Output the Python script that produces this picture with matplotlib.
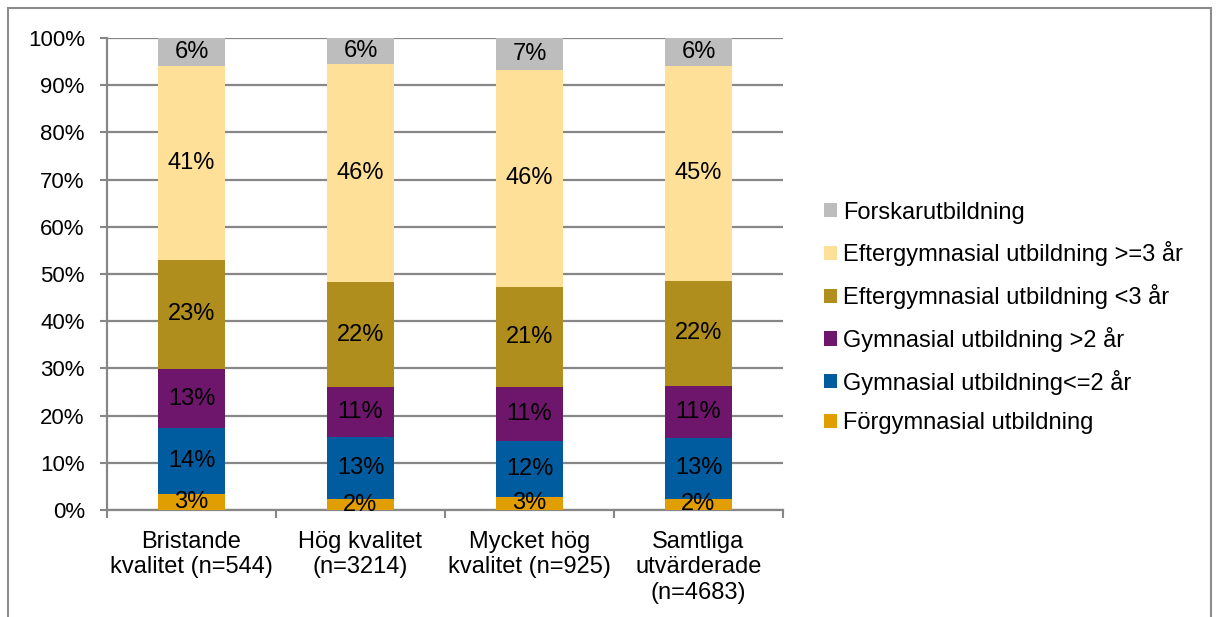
import numpy as np
import matplotlib
matplotlib.use('Agg')
import matplotlib.pyplot as plt
from matplotlib.patches import Rectangle

plt.rcParams['font.family'] = ['Liberation Sans', 'DejaVu Sans']

kategorier = ['Bristande\nkvalitet (n=544)', 'Hög kvalitet\n(n=3214)',
              'Mycket hög\nkvalitet (n=925)', 'Samtliga\nutvärderade\n(n=4683)']

# andelar i procent, nedifran och upp
forgym = [3.3, 2.3, 2.8, 2.4]
gym_kort = [14.0, 13.1, 11.8, 12.9]
gym_lang = [12.6, 10.6, 11.4, 11.0]
efter_kort = [23.1, 22.3, 21.3, 22.3]
efter_lang = [41.0, 46.1, 46.0, 45.4]
forskar = [6.0, 5.6, 6.7, 6.0]

serier = [
    ('Förgymnasial utbildning', forgym, '#E09E00'),
    ('Gymnasial utbildning<=2 år', gym_kort, '#005C9E'),
    ('Gymnasial utbildning >2 år', gym_lang, '#6E166B'),
    ('Eftergymnasial utbildning <3 år', efter_kort, '#B08E1E'),
    ('Eftergymnasial utbildning >=3 år', efter_lang, '#FFE098'),
    ('Forskarutbildning', forskar, '#BDBDBD'),
]

fs = 17
W, H = 1217, 617
fig = plt.figure(figsize=(W/100, H/100), dpi=100)
ax = fig.add_axes([107/W, 1-510/H, (783-107)/W, (510-38)/H])

x = np.arange(len(kategorier))
bottom = np.zeros(len(kategorier))
handles = []
for namn, vals, col in serier:
    vals = np.array(vals)
    b = ax.bar(x, vals/100, 0.4, bottom=bottom/100, color=col, label=namn, zorder=3)
    handles.append(b)
    for xi, v, b0 in zip(x, vals, bottom):
        ax.text(xi, (b0 + v/2)/100, f'{v:.0f}%', ha='center', va='center',
                fontsize=fs, color='black', zorder=4)
    bottom += vals

ax.set_xlim(-0.5, len(kategorier)-0.5)
ax.set_ylim(0, 1)
ax.set_yticks(np.arange(0, 1.01, 0.1))
ax.set_yticklabels([f'{int(round(t*100))}%' for t in np.arange(0, 1.01, 0.1)], fontsize=16)
ax.yaxis.grid(True, color='#878787', linewidth=1.6, zorder=0)
ax.set_axisbelow(True)

ax.set_xticks(x)
ax.set_xticklabels(kategorier, fontsize=fs)
ax.set_xticks(np.arange(-0.5, len(kategorier), 1), minor=True)
ax.tick_params(axis='x', which='major', length=0, pad=15)
ax.tick_params(axis='x', which='minor', length=6, width=1.5, color='#878787')
ax.tick_params(axis='y', length=5, width=1.5, color='#878787', pad=11)

for s in ['top', 'right']:
    ax.spines[s].set_visible(False)
for s in ['left', 'bottom']:
    ax.spines[s].set_color('#878787')
    ax.spines[s].set_linewidth(1.6)

fig.legend(handles[::-1], [s[0] for s in serier][::-1], loc='center left',
           bbox_to_anchor=(824/W, 1-318/H), frameon=False, fontsize=fs,
           handlelength=0.55, handleheight=0.55, handletextpad=0.25,
           labelspacing=0.75, borderpad=0, borderaxespad=0)

# ram runt diagrammet
fig.patches.append(Rectangle((8/W, -0.1), (1211-8)/W, 1.1-8/H, transform=fig.transFigure,
                             fill=False, edgecolor='#8C8C8C', linewidth=1.5))

plt.savefig('out.png', dpi=100)
